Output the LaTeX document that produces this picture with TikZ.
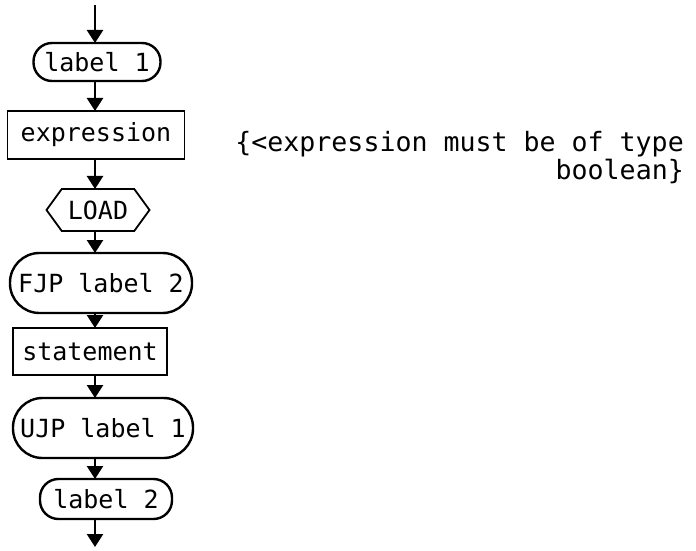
\documentclass[tikz,border=0pt]{standalone}
\usepackage{fontspec}
\setmonofont{DejaVu Sans Mono}
\usepackage{tikz}
\usetikzlibrary{positioning}
\usetikzlibrary{shapes.misc,shapes.symbols,arrows.meta}
\newcommand{\flowfont}{\ttfamily\fontsize{25}{28}\selectfont}
\newcommand{\remarkfont}{\ttfamily\fontsize{26.6}{28}\selectfont}
\tikzset{%
  labelnode/.style={rectangle, rounded corners=18.5pt, draw=black, line width=2.4pt, minimum height=38pt, inner sep=0pt, outer sep=0pt, font=\flowfont},% label
  jumpnode/.style={rectangle, rounded corners=29.5pt, draw=black, line width=2.4pt, minimum height=60pt, inner sep=0pt, outer sep=0pt, font=\flowfont},% jump instruction
  stmtnode/.style={rectangle, draw=black, line width=1.8pt, minimum height=47pt, inner sep=0pt, outer sep=0pt, font=\flowfont},% code part
  loadnode/.style={signal, signal to=west and east, signal pointer angle=108, draw=black, line width=1.8pt, minimum height=42pt, inner sep=0pt, outer sep=0pt, font=\flowfont},
  remark/.style={align=right, inner sep=0pt, font=\remarkfont},
  flowarrow/.style={line width=2.6pt, -{Triangle[width=16pt,length=13pt]}}
}
\begin{document}
\begin{tikzpicture}[x=1pt,y=1pt]
    \useasboundingbox (0,0) rectangle (696,550);
    %Nodes
    \coordinate (start) at (95,545);
    \node[labelnode, minimum width=127pt] (lab1) at (97,488) {label 1};
    \node[stmtnode, minimum width=177pt, minimum height=48pt] (expr) [below=30pt of lab1, xshift=-1pt] {expression};
    \node[loadnode, minimum width=103pt] (load) [below=30pt of expr, xshift=2pt] {LOAD};
    \node[jumpnode, minimum width=182pt] (fjp) [below=22pt of load, xshift=3pt] {FJP label 2};
    \node[stmtnode, minimum width=154pt] (stmt) [below=15pt of fjp, xshift=-11pt] {statement};
    \node[jumpnode, minimum width=180pt] (ujp) [below=23pt of stmt, xshift=13pt] {UJP label 1};
    \node[labelnode, minimum width=132pt, minimum height=40pt] (lab2) [below=21pt of ujp, xshift=3pt] {label 2};
    \coordinate (end) at (95,3);
    \node[remark, anchor=north east] (cond) at (684,419) {\{<expression must be of type\\boolean\}};

    %Lines
    \draw[flowarrow] (start) -- (lab1.north -| start);
    \draw[flowarrow] (lab1.south -| start) -- (expr.north -| start);
    \draw[flowarrow] (expr.south -| start) -- (load.north -| start);
    \draw[flowarrow] (load.south -| start) -- (fjp.north -| start);
    \draw[flowarrow] (fjp.south -| start) -- (stmt.north -| start);
    \draw[flowarrow] (stmt.south -| start) -- (ujp.north -| start);
    \draw[flowarrow] (ujp.south -| start) -- (lab2.north -| start);
    \draw[flowarrow] (lab2.south -| start) -- (end);
\end{tikzpicture}
\end{document}
